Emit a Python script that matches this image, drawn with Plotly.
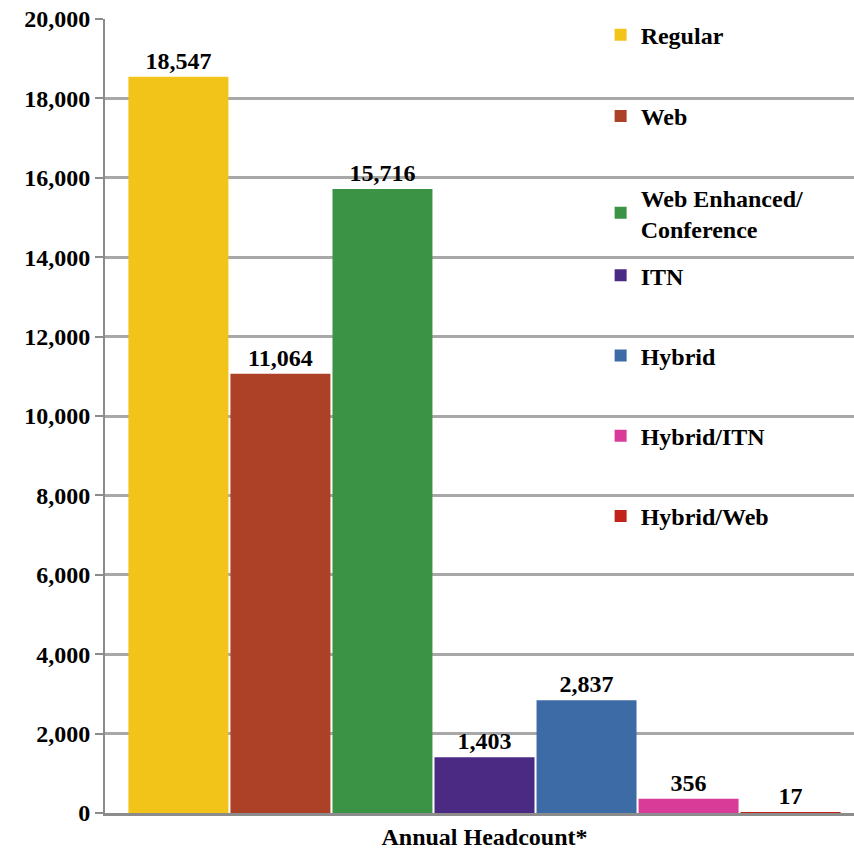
import plotly.graph_objects as go

# data
category = ["Annual Headcount*"]
series_names = ["Regular", "Web", "Web Enhanced/<br>Conference", "ITN",
                "Hybrid", "Hybrid/ITN", "Hybrid/Web"]
headcount = [18547, 11064, 15716, 1403, 2837, 356, 17]
colors = ["#f2c318", "#ad4127", "#3b9445", "#4a2a82", "#3c6ba6", "#d83c98", "#c1231b"]
y_ticks = list(range(0, 20001, 2000))

FONT = "Liberation Serif"
bold = dict(family=FONT, size=24, color="black", weight="bold")

fig = go.Figure()
for i, (name, val, col) in enumerate(zip(series_names, headcount, colors)):
    fig.add_trace(go.Bar(
        x=category, y=[val], name=name,
        marker=dict(color=col, line=dict(width=0)),
        text=[val], texttemplate="%{y:,}", textposition="outside",
        textfont=bold,
        cliponaxis=False,
        legend="legend" if i < 3 else "legend2",
        legendgroup=name,
    ))

legend_style = dict(
    font=bold,
    bgcolor="rgba(0,0,0,0)",
    itemwidth=30,
    xanchor="left", yanchor="top",
    x=0.653,
)

# plot area runs a little past the right edge of the window, like the original
fig.update_layout(
    width=864, height=856,
    margin=dict(l=105, r=0, t=19, b=43),
    paper_bgcolor="white", plot_bgcolor="white",
    barmode="group", bargap=0.059, bargroupgap=0.02,
    font=bold,
    legend=dict(**legend_style, y=1.008, tracegroupgap=47),
    legend2=dict(**legend_style, y=0.705, tracegroupgap=46),
)

fig.update_yaxes(
    range=[0, 20000], tickvals=y_ticks, tickformat=",",
    showgrid=True, gridcolor="#a8a8a8", gridwidth=2.5,
    showline=True, linecolor="#8c8c8c", linewidth=2,
    ticks="outside", ticklen=8, tickcolor="#8c8c8c", tickwidth=2,
    tickfont=bold, automargin=False, ticklabeloverflow="allow",
    zeroline=False,
)
fig.update_xaxes(
    showline=True, linecolor="#8c8c8c", linewidth=2.5,
    tickfont=bold, automargin=False, ticklabeloverflow="allow",
)

# drop the default page margin so the figure sits at the window's corner
fig.write_html("out.html",
               config={"displayModeBar": False},
               post_script="document.body.style.margin='0';"
                           "document.body.style.overflow='hidden';")
